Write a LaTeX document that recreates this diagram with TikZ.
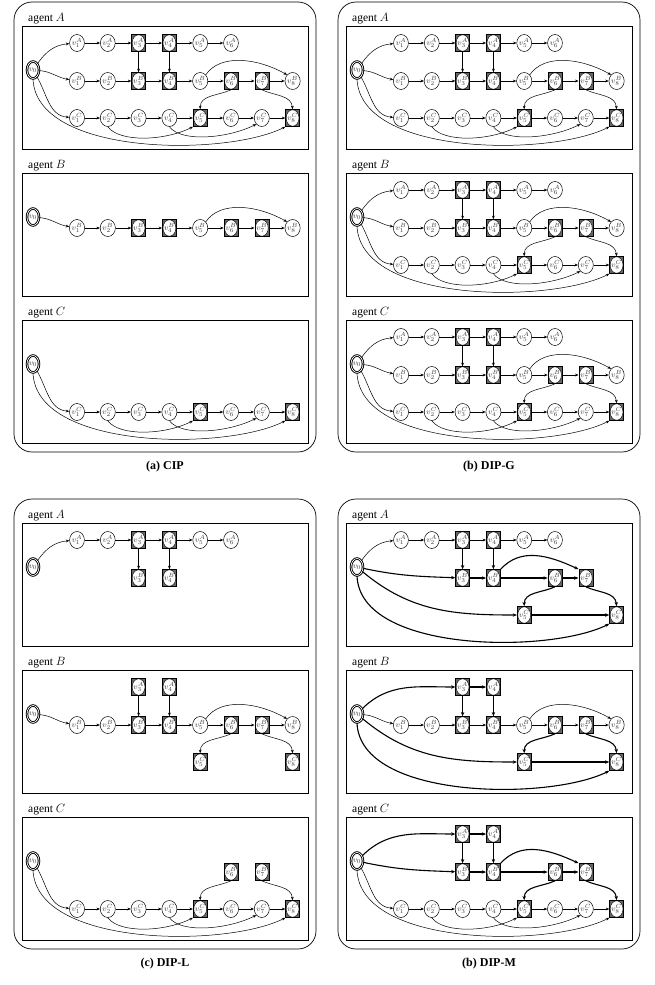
\documentclass[tikz,border=0pt]{standalone}
\usepackage{fontspec}
\setmainfont{Liberation Serif}
\usetikzlibrary{arrows.meta,shapes.geometric}

\tikzset{
  vst/.style={ellipse, draw, line width=0.5pt, fill=white, minimum width=13pt, minimum height=17pt, inner sep=0pt, text=black!75, font=\fontsize{8}{8}\selectfont},
  vsq/.style={rectangle, draw, line width=0.6pt, fill=black!60, minimum width=14pt, minimum height=17pt, inner sep=0pt, text=black!75, font=\fontsize{8}{8}\selectfont,
    path picture={\draw[fill=white, line width=0.4pt] (path picture bounding box.center) ellipse [x radius=6.4pt, y radius=8.2pt];}},
  vzero/.style={ellipse, draw, double, line width=0.9pt, double distance=0.7pt, minimum width=12pt, minimum height=17pt, inner sep=0pt, text=black!75, font=\fontsize{8}{8}\selectfont},
  lnk/.style={-{Stealth[length=3.5pt,width=2.8pt]}, line width=0.5pt},
  fatlnk/.style={-{Stealth[length=4.2pt,width=3.4pt]}, line width=1.1pt},
  agentbox/.style={draw, line width=0.7pt},
  panel/.style={draw, line width=0.7pt, rounded corners=18pt},
  agentlabel/.style={anchor=base west, inner sep=0pt, font=\fontsize{11.5}{12}\selectfont},
  capt/.style={inner sep=0pt, font=\fontsize{12}{14}\selectfont\bfseries},
}

% row heights inside one agent box
\newcommand{\yA}{-17}
\newcommand{\yB}{-55}
\newcommand{\yC}{-92}
\newcommand{\vnode}[4]{\node[#4] (#1#2#3) at ({55+30.8*(#3-1)},\csname y#2\endcsname) {$v_{#3}^{#2}$};}
\newcommand{\vroot}[1]{\node[vzero] (#1v0) at (11,-44) {$v_0$};}
\newcommand{\vchain}[5]{\foreach \i in {#3,...,#4}{\pgfmathtruncatemacro\nx{\i+1}\draw[#5] (#1#2\i) -- (#1#2\nx);}}

% the whole graph, as seen in CIP agent A and in DIP-G
\newcommand{\fullgraph}[1]{%
  \vroot{#1}
  \foreach \i/\s in {1/vst,2/vst,3/vsq,4/vsq,5/vst,6/vst}{\vnode{#1}{A}{\i}{\s}}
  \foreach \i/\s in {1/vst,2/vst,3/vsq,4/vsq,5/vst,6/vsq,7/vsq,8/vst}{\vnode{#1}{B}{\i}{\s}}
  \foreach \i/\s in {1/vst,2/vst,3/vst,4/vst,5/vsq,6/vst,7/vst,8/vsq}{\vnode{#1}{C}{\i}{\s}}
  \vchain{#1}{A}{1}{5}{lnk}
  \vchain{#1}{B}{1}{7}{lnk}
  \vchain{#1}{C}{1}{7}{lnk}
  \draw[lnk] (#1A3) -- (#1B3);
  \draw[lnk] (#1A4) -- (#1B4);
  \draw[lnk] (#1v0) to[out=55,in=185] (#1A1);
  \draw[lnk] (#1v0) to[out=-5,in=170] (#1B1);
  \draw[lnk] (#1v0) to[out=-60,in=175] (#1C1);
  \draw[lnk] (#1v0.south) .. controls +(3,-77) and +(-60,-30) .. (#1C8.south west);
  \draw[lnk] (#1B5.north east) .. controls +(15,22) and +(-28,16) .. (#1B8.north west);
  \draw[lnk] (#1B6.south) to[out=-155,in=90] (#1C5.north);
  \draw[lnk] (#1B7.south) to[out=-25,in=95] (#1C8.north);
  \draw[lnk] (#1C2.south) .. controls +(12,-16) and +(-28,-14) .. (#1C5.south west);
  \draw[lnk] (#1C4.south) .. controls +(12,-16) and +(-28,-14) .. (#1C7.south west);
}

\begin{document}
\begin{tikzpicture}[x=1pt, y=1pt]
\useasboundingbox (0,0) rectangle (654,-985);

% outer panels and captions
\draw[panel] (14,-2) rectangle (316,-452);
\draw[panel] (338,-2) rectangle (640,-452);
\draw[panel] (14,-499) rectangle (316,-949);
\draw[panel] (338,-499) rectangle (640,-949);
\node[capt] (capa) at (165,-467) {(a) CIP};
\node[capt] (capb) at (489,-467) {(b) DIP-G};
\node[capt] (capc) at (165,-964) {(c) DIP-L};
\node[capt] (capd) at (489,-964) {(b) DIP-M};

% (a) CIP
\begin{scope}[shift={(22,-26)}]
  \draw[agentbox] (0,0) rectangle (286,-123);
  \node[agentlabel] (a1lab) at (6,5) {agent $A$};
  \fullgraph{a1}
\end{scope}
\begin{scope}[shift={(22,-173)}]
  \draw[agentbox] (0,0) rectangle (286,-123);
  \node[agentlabel] (a2lab) at (6,5) {agent $B$};
  \vroot{a2}
  \foreach \i/\s in {1/vst,2/vst,3/vsq,4/vsq,5/vst,6/vsq,7/vsq,8/vst}{\vnode{a2}{B}{\i}{\s}}
  \vchain{a2}{B}{1}{7}{lnk}
  \draw[lnk] (a2v0) to[out=-5,in=170] (a2B1);
  \draw[lnk] (a2B5.north east) .. controls +(15,22) and +(-28,16) .. (a2B8.north west);
\end{scope}
\begin{scope}[shift={(22,-320)}]
  \draw[agentbox] (0,0) rectangle (286,-123);
  \node[agentlabel] (a3lab) at (6,5) {agent $C$};
  \vroot{a3}
  \foreach \i/\s in {1/vst,2/vst,3/vst,4/vst,5/vsq,6/vst,7/vst,8/vsq}{\vnode{a3}{C}{\i}{\s}}
  \vchain{a3}{C}{1}{7}{lnk}
  \draw[lnk] (a3v0) to[out=-60,in=175] (a3C1);
  \draw[lnk] (a3v0.south) .. controls +(3,-77) and +(-60,-30) .. (a3C8.south west);
  \draw[lnk] (a3C2.south) .. controls +(12,-16) and +(-28,-14) .. (a3C5.south west);
  \draw[lnk] (a3C4.south) .. controls +(12,-16) and +(-28,-14) .. (a3C7.south west);
\end{scope}

% (b) DIP-G
\begin{scope}[shift={(346,-26)}]
  \draw[agentbox] (0,0) rectangle (286,-123);
  \node[agentlabel] (b1lab) at (6,5) {agent $A$};
  \fullgraph{b1}
\end{scope}
\begin{scope}[shift={(346,-173)}]
  \draw[agentbox] (0,0) rectangle (286,-123);
  \node[agentlabel] (b2lab) at (6,5) {agent $B$};
  \fullgraph{b2}
\end{scope}
\begin{scope}[shift={(346,-320)}]
  \draw[agentbox] (0,0) rectangle (286,-123);
  \node[agentlabel] (b3lab) at (6,5) {agent $C$};
  \fullgraph{b3}
\end{scope}

% (c) DIP-L
\begin{scope}[shift={(22,-523)}]
  \draw[agentbox] (0,0) rectangle (286,-123);
  \node[agentlabel] (c1lab) at (6,5) {agent $A$};
  \vroot{c1}
  \foreach \i/\s in {1/vst,2/vst,3/vsq,4/vsq,5/vst,6/vst}{\vnode{c1}{A}{\i}{\s}}
  \vnode{c1}{B}{3}{vsq}
  \vnode{c1}{B}{4}{vsq}
  \vchain{c1}{A}{1}{5}{lnk}
  \draw[lnk] (c1v0) to[out=55,in=185] (c1A1);
  \draw[lnk] (c1A3) -- (c1B3);
  \draw[lnk] (c1A4) -- (c1B4);
\end{scope}
\begin{scope}[shift={(22,-670)}]
  \draw[agentbox] (0,0) rectangle (286,-123);
  \node[agentlabel] (c2lab) at (6,5) {agent $B$};
  \vroot{c2}
  \vnode{c2}{A}{3}{vsq}
  \vnode{c2}{A}{4}{vsq}
  \foreach \i/\s in {1/vst,2/vst,3/vsq,4/vsq,5/vst,6/vsq,7/vsq,8/vst}{\vnode{c2}{B}{\i}{\s}}
  \vnode{c2}{C}{5}{vsq}
  \vnode{c2}{C}{8}{vsq}
  \vchain{c2}{B}{1}{7}{lnk}
  \draw[lnk] (c2v0) to[out=-5,in=170] (c2B1);
  \draw[lnk] (c2A3) -- (c2B3);
  \draw[lnk] (c2A4) -- (c2B4);
  \draw[lnk] (c2B5.north east) .. controls +(15,22) and +(-28,16) .. (c2B8.north west);
  \draw[lnk] (c2B6.south) to[out=-155,in=90] (c2C5.north);
  \draw[lnk] (c2B7.south) to[out=-25,in=95] (c2C8.north);
\end{scope}
\begin{scope}[shift={(22,-817)}]
  \draw[agentbox] (0,0) rectangle (286,-123);
  \node[agentlabel] (c3lab) at (6,5) {agent $C$};
  \vroot{c3}
  \vnode{c3}{B}{6}{vsq}
  \vnode{c3}{B}{7}{vsq}
  \foreach \i/\s in {1/vst,2/vst,3/vst,4/vst,5/vsq,6/vst,7/vst,8/vsq}{\vnode{c3}{C}{\i}{\s}}
  \vchain{c3}{C}{1}{7}{lnk}
  \draw[lnk] (c3v0) to[out=-60,in=175] (c3C1);
  \draw[lnk] (c3v0.south) .. controls +(3,-77) and +(-60,-30) .. (c3C8.south west);
  \draw[lnk] (c3C2.south) .. controls +(12,-16) and +(-28,-14) .. (c3C5.south west);
  \draw[lnk] (c3C4.south) .. controls +(12,-16) and +(-28,-14) .. (c3C7.south west);
  \draw[lnk] (c3B6.south) to[out=-155,in=90] (c3C5.north);
  \draw[lnk] (c3B7.south) to[out=-25,in=95] (c3C8.north);
\end{scope}

% (d) DIP-M
\begin{scope}[shift={(346,-523)}]
  \draw[agentbox] (0,0) rectangle (286,-123);
  \node[agentlabel] (d1lab) at (6,5) {agent $A$};
  \vroot{d1}
  \foreach \i/\s in {1/vst,2/vst,3/vsq,4/vsq,5/vst,6/vst}{\vnode{d1}{A}{\i}{\s}}
  \foreach \i in {3,4,6,7}{\vnode{d1}{B}{\i}{vsq}}
  \vnode{d1}{C}{5}{vsq}
  \vnode{d1}{C}{8}{vsq}
  \vchain{d1}{A}{1}{5}{lnk}
  \draw[lnk] (d1v0) to[out=55,in=185] (d1A1);
  \draw[fatlnk] (d1A3) -- (d1B3);
  \draw[fatlnk] (d1A4) -- (d1B4);
  \draw[fatlnk] (d1v0) to[out=-12,in=178] (d1B3);
  \draw[fatlnk] (d1B3) -- (d1B4);
  \draw[fatlnk] (d1B4) -- (d1B6);
  \draw[fatlnk] (d1B6) -- (d1B7);
  \draw[fatlnk] (d1B4.north east) .. controls +(20,22) and +(-30,14) .. (d1B7.north west);
  \draw[fatlnk] (d1B6.south) to[out=-155,in=90] (d1C5.north);
  \draw[fatlnk] (d1B7.south) to[out=-25,in=95] (d1C8.north);
  \draw[fatlnk] (d1v0) to[out=-40,in=180] (d1C5);
  \draw[fatlnk] (d1C5) -- (d1C8);
  \draw[fatlnk] (d1v0.south) .. controls +(3,-77) and +(-60,-30) .. (d1C8.south west);
\end{scope}
\begin{scope}[shift={(346,-670)}]
  \draw[agentbox] (0,0) rectangle (286,-123);
  \node[agentlabel] (d2lab) at (6,5) {agent $B$};
  \vroot{d2}
  \vnode{d2}{A}{3}{vsq}
  \vnode{d2}{A}{4}{vsq}
  \foreach \i/\s in {1/vst,2/vst,3/vsq,4/vsq,5/vst,6/vsq,7/vsq,8/vst}{\vnode{d2}{B}{\i}{\s}}
  \vnode{d2}{C}{5}{vsq}
  \vnode{d2}{C}{8}{vsq}
  \vchain{d2}{B}{1}{7}{lnk}
  \draw[lnk] (d2v0) to[out=-5,in=170] (d2B1);
  \draw[lnk] (d2B5.north east) .. controls +(15,22) and +(-28,16) .. (d2B8.north west);
  \draw[fatlnk] (d2v0) to[out=45,in=180] (d2A3);
  \draw[fatlnk] (d2A3) -- (d2A4);
  \draw[fatlnk] (d2A3) -- (d2B3);
  \draw[fatlnk] (d2A4) -- (d2B4);
  \draw[fatlnk] (d2B6.south) to[out=-155,in=90] (d2C5.north);
  \draw[fatlnk] (d2B7.south) to[out=-25,in=95] (d2C8.north);
  \draw[fatlnk] (d2v0) to[out=-40,in=180] (d2C5);
  \draw[fatlnk] (d2C5) -- (d2C8);
  \draw[fatlnk] (d2v0.south) .. controls +(3,-77) and +(-60,-30) .. (d2C8.south west);
\end{scope}
\begin{scope}[shift={(346,-817)}]
  \draw[agentbox] (0,0) rectangle (286,-123);
  \node[agentlabel] (d3lab) at (6,5) {agent $C$};
  \vroot{d3}
  \vnode{d3}{A}{3}{vsq}
  \vnode{d3}{A}{4}{vsq}
  \foreach \i in {3,4,6,7}{\vnode{d3}{B}{\i}{vsq}}
  \foreach \i/\s in {1/vst,2/vst,3/vst,4/vst,5/vsq,6/vst,7/vst,8/vsq}{\vnode{d3}{C}{\i}{\s}}
  \vchain{d3}{C}{1}{7}{lnk}
  \draw[lnk] (d3v0) to[out=-60,in=175] (d3C1);
  \draw[lnk] (d3v0.south) .. controls +(3,-77) and +(-60,-30) .. (d3C8.south west);
  \draw[lnk] (d3C2.south) .. controls +(12,-16) and +(-28,-14) .. (d3C5.south west);
  \draw[lnk] (d3C4.south) .. controls +(12,-16) and +(-28,-14) .. (d3C7.south west);
  \draw[fatlnk] (d3v0) to[out=45,in=180] (d3A3);
  \draw[fatlnk] (d3A3) -- (d3A4);
  \draw[fatlnk] (d3A3) -- (d3B3);
  \draw[fatlnk] (d3A4) -- (d3B4);
  \draw[fatlnk] (d3v0) to[out=-12,in=178] (d3B3);
  \draw[fatlnk] (d3B3) -- (d3B4);
  \draw[fatlnk] (d3B4) -- (d3B6);
  \draw[fatlnk] (d3B6) -- (d3B7);
  \draw[fatlnk] (d3B4.north east) .. controls +(20,22) and +(-30,14) .. (d3B7.north west);
  \draw[fatlnk] (d3B6.south) to[out=-155,in=90] (d3C5.north);
  \draw[fatlnk] (d3B7.south) to[out=-25,in=95] (d3C8.north);
\end{scope}
\end{tikzpicture}
\end{document}
